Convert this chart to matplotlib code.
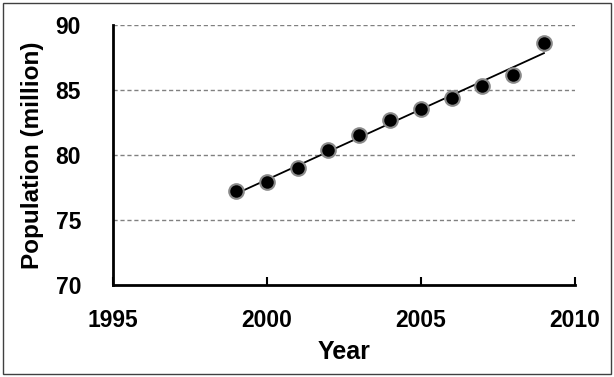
import numpy as np
import matplotlib
matplotlib.use("Agg")
import matplotlib.pyplot as plt
from matplotlib.patches import Rectangle

years = [1999, 2000, 2001, 2002, 2003, 2004, 2005, 2006, 2007, 2008, 2009]
population = [77.2, 77.9, 79.0, 80.4, 81.5, 82.7, 83.5, 84.4, 85.3, 86.15, 88.6]
x_ticks = [1995, 2000, 2005, 2010]
y_ticks = [70, 75, 80, 85, 90]

plt.rcParams['font.family'] = ['Liberation Sans', 'DejaVu Sans']
plt.rcParams['font.weight'] = 'bold'

fig = plt.figure(figsize=(6.14, 3.77), dpi=100)
ax = fig.add_axes([0.184, 0.244, 0.752, 0.690])

# trend line
coef = np.polyfit(years, population, 1)
xs = np.array([years[0], years[-1]])
ax.plot(xs, np.polyval(coef, xs), color='black', lw=1.3, zorder=2)

ax.plot(years, population, 'o', color='black', markersize=10.5,
        markeredgecolor='#8a8a8a', markeredgewidth=1.5, zorder=3)

ax.set_xlim(1995, 2010)
ax.set_ylim(70, 90)
ax.set_xticks(x_ticks)
ax.set_yticks(y_ticks)
for y in y_ticks[1:]:
    ax.axhline(y, color='#808080', lw=1.0, ls=(0, (3, 2)), zorder=1)

for s in ['top', 'right']:
    ax.spines[s].set_visible(False)
for s in ['left', 'bottom']:
    ax.spines[s].set_linewidth(2)
    ax.spines[s].set_color('black')

ax.tick_params(axis='x', direction='in', length=6, width=1.5, pad=17, labelsize=16.5)
ax.tick_params(axis='y', length=0, pad=23, labelsize=16.5)
for lab in ax.get_xticklabels() + ax.get_yticklabels():
    lab.set_fontweight('bold')

ax.set_xlabel('Year', fontsize=18, fontweight='bold', labelpad=6)
ax.set_ylabel('Population (million)', fontsize=17.5, fontweight='bold', labelpad=8)

fig.patches.append(Rectangle((0.005, 0.008), 0.99, 0.984, transform=fig.transFigure,
                             fill=False, edgecolor='#404040', lw=1.0))

fig.savefig('out.png', dpi=100)
